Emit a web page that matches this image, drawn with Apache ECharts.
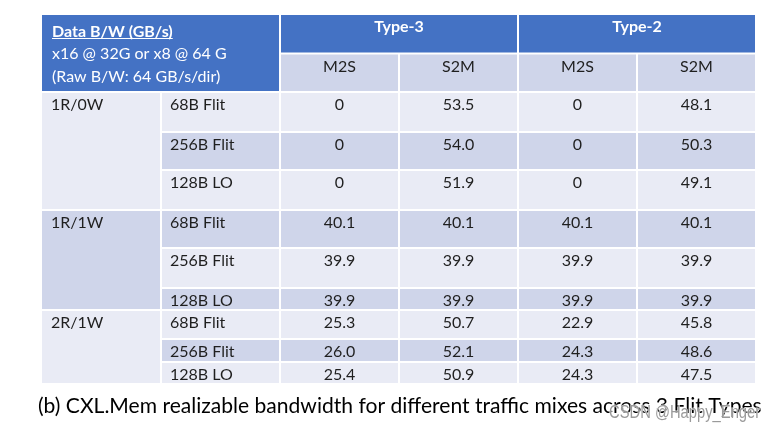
<!DOCTYPE html>
<html><head><meta charset="utf-8">
<script src="https://cdn.jsdelivr.net/npm/echarts@6/dist/echarts.min.js"></script>
<style>html,body{margin:0;padding:0;background:#fff}#c{width:784px;height:434px}</style>
</head><body><div id="c"></div>
<script>
// ---- data ----
const headerLines = ['Data B/W (GB/s)', 'x16 @ 32G or x8 @ 64 G', '(Raw B/W: 64 GB/s/dir)'];
const types = ['Type-3', 'Type-2'];
const dirs = ['M2S', 'S2M'];
const groups = ['1R/0W', '1R/1W', '2R/1W'];
const flits = ['68B Flit', '256B Flit', '128B LO'];
const type3M2S = [0, 0, 0, 40.1, 39.9, 39.9, 25.3, 26.0, 25.4];
const type3S2M = [53.5, 54.0, 51.9, 40.1, 39.9, 39.9, 50.7, 52.1, 50.9];
const type2M2S = [0, 0, 0, 40.1, 39.9, 39.9, 22.9, 24.3, 24.3];
const type2S2M = [48.1, 50.3, 49.1, 40.1, 39.9, 39.9, 45.8, 48.6, 47.5];
const caption = '(b) CXL.Mem realizable bandwidth for different traffic mixes across 3 Flit Types';
const watermark = 'CSDN @Happy_Enger';

// ---- layout / style ----
const FONT = 'Lato';
const BLUE = '#4472C4', LIGHT = '#E9EBF5', DARK = '#CFD5EA', TXT = '#1f1f1f';
const colEdges = [41, 161, 280, 399, 518, 637, 756];
const rowEdges = [14, 53.5, 92, 132, 170, 210, 248, 288, 310, 339, 362, 384];
const BODY_SIZE = 16;

const fmt = v => v === 0 ? '0' : v.toFixed(1);
const cells = [];
cells.push({ c: [0, 2], r: [0, 2], fill: BLUE, corner: true });
types.forEach((t, i) => cells.push({ c: [2 + 2 * i, 4 + 2 * i], r: [0, 1], fill: BLUE, text: t, color: '#fff', bold: true, align: 'center', dy: 12 }));
for (let i = 0; i < 4; i++) cells.push({ c: [2 + i, 3 + i], r: [1, 2], fill: DARK, text: dirs[i % 2], align: 'center', dy: 12.5 });
groups.forEach((g, gi) => cells.push({ c: [0, 1], r: [2 + 3 * gi, 5 + 3 * gi], fill: gi % 2 ? DARK : LIGHT, text: g, align: 'left', pad: 9, dy: 11.5 }));
const valueCols = [type3M2S, type3S2M, type2M2S, type2S2M];
for (let k = 0; k < 9; k++) {
  const fill = k % 2 ? DARK : LIGHT;
  cells.push({ c: [1, 2], r: [2 + k, 3 + k], fill, text: flits[k % 3], align: 'left', pad: 8, dy: 11.5 });
  valueCols.forEach((col, j) => cells.push({ c: [2 + j, 3 + j], r: [2 + k, 3 + k], fill, text: fmt(col[k]), align: 'center', dy: 11.5 }));
}

const measure = (() => { const cv = document.createElement('canvas').getContext('2d'); return (t, f) => { cv.font = f; return cv.measureText(t).width; }; })();
// fit caption to its width in the reference
const CAP_W = 724;
const capSize = Math.min(24, 22 * CAP_W / measure(caption, '22px ' + FONT));

const chart = echarts.init(document.getElementById('c'), null, { renderer: 'canvas' });
chart.setOption({
  animation: false,
  backgroundColor: '#fff',
  grid: { left: 0, right: 0, top: 0, bottom: 0 },
  xAxis: { type: 'value', min: 0, max: 784, show: false },
  yAxis: { type: 'value', min: 0, max: 434, inverse: true, show: false },
  graphic: [{
    type: 'text', x: 38, y: 406, z: 90,
    style: { text: caption, font: capSize.toFixed(2) + 'px ' + FONT, fill: '#000', align: 'left', verticalAlign: 'middle' }
  }, {
    type: 'text', x: 609, y: 413, z: 100,
    style: { text: watermark, font: '18px "Liberation Sans"', fill: '#9a9a9a', stroke: 'rgba(255,255,255,0.8)', lineWidth: 1, align: 'left', verticalAlign: 'middle' },
    scaleX: 0.82
  }],
  series: [{
    type: 'custom',
    coordinateSystem: 'cartesian2d',
    data: cells.map(c => [colEdges[c.c[0]], colEdges[c.c[1]], rowEdges[c.r[0]], rowEdges[c.r[1]]]),
    renderItem(params, api) {
      const cell = cells[params.dataIndex];
      const p0 = api.coord([api.value(0), api.value(2)]);
      const p1 = api.coord([api.value(1), api.value(3)]);
      const x0 = p0[0] + 1, y0 = p0[1] + 1, w = p1[0] - p0[0] - 2, h = p1[1] - p0[1] - 2;
      const children = [{ type: 'rect', shape: { x: x0, y: y0, width: w, height: h }, style: { fill: cell.fill } }];
      if (cell.corner) {
        const bf = 'bold ' + BODY_SIZE + 'px ' + FONT;
        const nf = BODY_SIZE + 'px ' + FONT;
        const ys = [17, 39, 62];
        headerLines.forEach((t, i) => children.push({
          type: 'text', style: { text: t, x: x0 + 10, y: y0 + ys[i], font: i === 0 ? bf : nf, fill: '#fff', align: 'left', verticalAlign: 'middle' }
        }));
        const uw = measure(headerLines[0], bf);
        children.push({ type: 'line', shape: { x1: x0 + 10, y1: y0 + 23.5, x2: x0 + 10 + uw, y2: y0 + 23.5 }, style: { stroke: '#fff', lineWidth: 1 } });
      } else if (cell.text != null) {
        const font = (cell.bold ? 'bold ' : '') + BODY_SIZE + 'px ' + FONT;
        const tx = cell.align === 'center' ? x0 + w / 2 : x0 + cell.pad;
        children.push({ type: 'text', style: { text: cell.text, x: tx, y: y0 + cell.dy, font, fill: cell.color || TXT, align: cell.align, verticalAlign: 'middle' } });
      }
      return { type: 'group', children };
    }
  }]
});
</script>
</body></html>
